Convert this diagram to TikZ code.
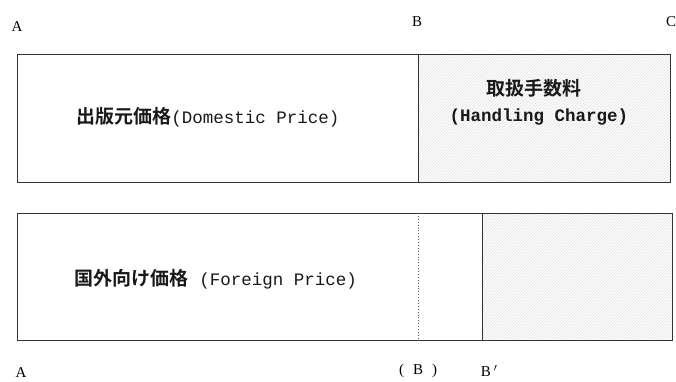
\documentclass[tikz,border=0pt]{standalone}
\usepackage{fontspec}
\setmainfont{Liberation Serif}
\newfontfamily\jpfont{Noto Sans CJK JP}[BoldFont={* Bold}]
\newfontfamily\monofont{Liberation Mono}
\usetikzlibrary{patterns}
\tikzset{
  boxline/.style={draw=black!80, line width=0.9pt},
  shadebox/.style={boxline, pattern=north east lines, pattern color=gray!25},
  plainbox/.style={boxline, fill=white},
  lbl/.style={font=\fontsize{15}{15}\selectfont, inner sep=0pt},
  txt/.style={inner sep=0pt, text=black!90},
}
\newcommand{\jp}[1]{{\fontsize{19}{20}\selectfont\jpfont\bfseries #1}}
\newcommand{\mo}[1]{{\fontsize{17.5}{20}\selectfont\monofont #1}}
\begin{document}
\begin{tikzpicture}[x=1pt,y=-1pt]
\useasboundingbox (0,0) rectangle (676,381);
% top row
\node[plainbox, minimum width=401pt, minimum height=128pt, inner sep=0pt] (dom) at (217.5,118) {};
\node[shadebox, minimum width=252pt, minimum height=128pt, inner sep=0pt] (hand) at (544,118) {};
% bottom row
\node[plainbox, minimum width=465pt, minimum height=127pt, inner sep=0pt] (for) at (249.5,276.5) {};
\node[shadebox, minimum width=190pt, minimum height=127pt, inner sep=0pt] (diff) at (577,276.5) {};
\coordinate (bt) at (418,213);
\coordinate (bb) at (418,340);
\draw[black!65, line width=0.9pt, dotted] (bt) -- (bb);
% texts
\node[txt] (domt) at (208,117) {\jp{出版元価格}\mo{(Domestic Price)}};
\node[txt] (handt1) at (534,88) {\jp{取扱手数料}};
\node[txt] (handt2) at (539,117) {\mo{\bfseries(Handling Charge)}};
\node[txt] (fort) at (216,279) {\jp{国外向け価格}\mo{ (Foreign Price)}};
% labels
\node[lbl] (A1) at (17,27) {A};
\node[lbl] (B1) at (417,22) {B};
\node[lbl] (C1) at (671,22) {C};
\node[lbl] (A2) at (21,373) {A};
\node[lbl] (B2) at (418,371) {(\hspace{9pt}B\hspace{9pt})};
\node[lbl] (B3) at (489,371) {B\hspace{3pt}$'$};
\end{tikzpicture}
\end{document}
